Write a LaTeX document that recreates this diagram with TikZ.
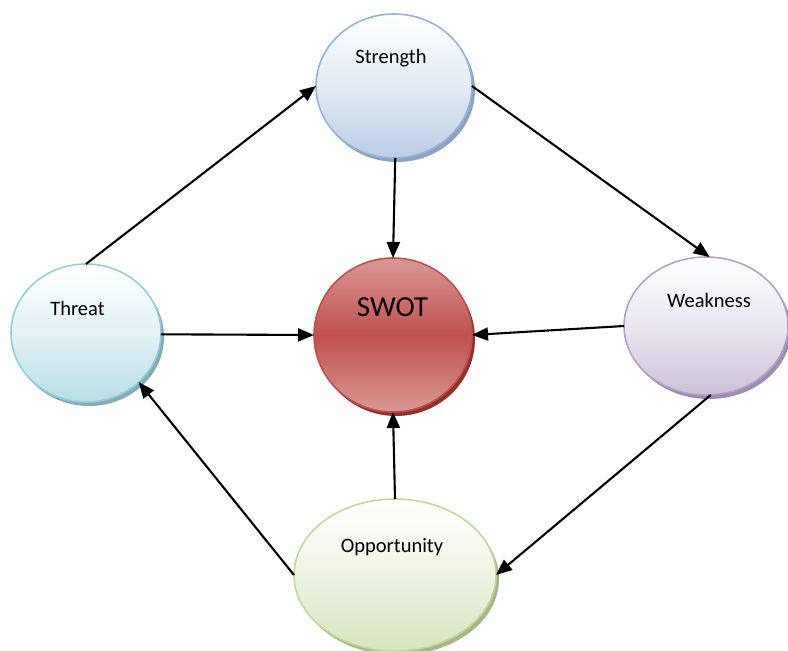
\documentclass[tikz,border=0pt]{standalone}
\usepackage{fontspec}
\setmainfont{Carlito}
\usetikzlibrary{arrows.meta,shapes.geometric}
\definecolor{sBorder}{HTML}{95B3D7}
\definecolor{sFill}{HTML}{B9CDE5}
\definecolor{sShadow}{HTML}{8EA2BE}
\definecolor{tBorder}{HTML}{92CDDC}
\definecolor{tFill}{HTML}{B7DEE8}
\definecolor{tShadow}{HTML}{86ABB6}
\definecolor{wBorder}{HTML}{B3A2C7}
\definecolor{wFill}{HTML}{CCC1DA}
\definecolor{wShadow}{HTML}{9A8DAE}
\definecolor{oBorder}{HTML}{C3D69B}
\definecolor{oFill}{HTML}{D7E4BD}
\definecolor{oShadow}{HTML}{A7B68A}
\definecolor{rBorder}{HTML}{C0504D}
\definecolor{rMid}{HTML}{C0504D}
\definecolor{rLight}{HTML}{DA9896}
\definecolor{rShadow}{HTML}{8C3331}
\begin{document}
\begin{tikzpicture}[x=1pt,y=-1pt,
  bub/.style={ellipse, inner sep=0pt, outer sep=0pt, line width=1.6pt},
  shad/.style={ellipse, inner sep=0pt, outer sep=0pt, draw=none},
  pastel/.style 2 args={bub, draw=#1, top color=white, bottom color=#2, middle color=#2!40!white},
  lbl/.style={anchor=base, inner sep=0pt, font=\fontsize{20.5}{24}\selectfont},
  arr/.style={line width=2.1pt, -{Triangle[length=16pt,width=13pt]}}]
\useasboundingbox (0,0) rectangle (788,651);
% shadows
\node[shad, fill=sShadow, minimum width=156pt, minimum height=144pt] (strengthsh) at (397,90) {};
\node[shad, fill=rShadow, minimum width=158pt, minimum height=154pt] (swotsh) at (396,339) {};
\node[shad, fill=tShadow, minimum width=150pt, minimum height=138pt] (threatsh) at (89,337) {};
\node[shad, fill=wShadow, minimum width=164pt, minimum height=138pt] (weaknesssh) at (709,330) {};
\node[shad, fill=oShadow, minimum width=202pt, minimum height=152pt] (opportunitysh) at (398,579) {};
% bubbles
\node[pastel={sBorder}{sFill}, minimum width=156pt, minimum height=144pt] (strength) at (394,86) {};
\node[bub, draw=rBorder, top color=rLight, bottom color=rLight, middle color=rMid, minimum width=158pt, minimum height=154pt] (swot) at (393,335) {};
\node[pastel={tBorder}{tFill}, minimum width=150pt, minimum height=138pt] (threat) at (86,333) {};
\node[pastel={wBorder}{wFill}, minimum width=164pt, minimum height=138pt] (weakness) at (706,326) {};
\node[pastel={oBorder}{oFill}, minimum width=202pt, minimum height=152pt] (opportunity) at (395,575) {};
% labels
\node[lbl] (strengthtxt) at (391,63) {Strength};
\node[lbl, font=\fontsize{29}{34}\selectfont] (swottxt) at (392.5,316) {SWOT};
\node[lbl] (threattxt) at (77.5,315) {Threat};
\node[lbl] (weaknesstxt) at (709,307) {Weakness};
\node[lbl] (opportunitytxt) at (392,552) {Opportunity};
% connectors
\draw[arr] (threat.90) -- (strength.180);
\draw[arr] (strength.0) -- (weakness.87);
\draw[arr] (strength.-89) -- (swot.90);
\draw[arr] (threat.-1) -- (swot.180);
\draw[arr] (weakness.180) -- (swot.0);
\draw[arr] (weakness.-86) -- (opportunity.0);
\draw[arr] (opportunity.90) -- (swot.270);
\draw[arr] (opportunity.180) -- (threat.-43);
\end{tikzpicture}
\end{document}
